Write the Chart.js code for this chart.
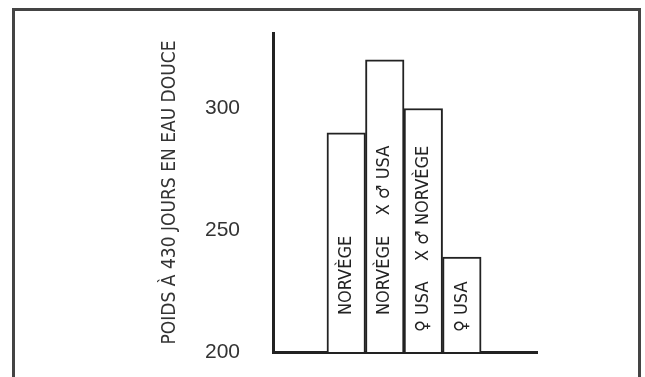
<!DOCTYPE html>
<html>
<head>
<meta charset="utf-8">
<script src="https://cdn.jsdelivr.net/npm/chart.js@4.4.0/dist/chart.umd.min.js"></script>
<style>
  html, body { margin: 0; padding: 0; background: #fff; }
  #wrap { position: relative; width: 645px; height: 377px; overflow: hidden; }
  #frame { position: absolute; left: 12px; top: 8px; width: 623px; height: 400px; border: 3px solid #444; border-bottom: none; pointer-events: none; }
  canvas { position: absolute; left: 0; top: 0; }
</style>
</head>
<body>
<div id="wrap">
  <canvas id="chart" width="645" height="377"></canvas>
  <div id="frame"></div>
</div>
<script>
// Crosses (female x male) and the mean weight after 430 days in fresh water
var categories = ['NORVÈGE', 'NORVÈGE    X ♂ USA', '♀ USA    X ♂ NORVÈGE', '♀ USA'];
var weights = [290, 320, 300, 239];
var yTicks = [200, 250, 300];
var yTitle = 'POIDS À 430 JOURS EN EAU DOUCE';

var narrow = "'Liberation Sans Narrow', 'DejaVu Sans Condensed', sans-serif";
var ink = '#222';

// write the group names up the inside of each bar
var barLabels = {
  id: 'barLabels',
  afterDatasetsDraw: function (chart) {
    var ctx = chart.ctx;
    var bottom = chart.chartArea.bottom;
    chart.getDatasetMeta(0).data.forEach(function (bar, i) {
      var text = categories[i];
      ctx.save();
      ctx.font = '18px ' + narrow;
      ctx.fillStyle = ink;
      ctx.textAlign = 'left';
      ctx.textBaseline = 'middle';
      var start = bottom - 37;
      // the female sign hangs below the other names
      if (text.charAt(0) === '♀') start += ctx.measureText('♀ ').width;
      ctx.translate(bar.x, start);
      ctx.rotate(-Math.PI / 2);
      ctx.fillText(text, 0, 0);
      ctx.restore();
    });
  }
};

var ctx = document.getElementById('chart').getContext('2d');

new Chart(ctx, {
  type: 'bar',
  data: {
    datasets: [{
      data: weights.map(function (w, i) { return { x: i, y: w }; }),
      backgroundColor: '#fff',
      borderColor: ink,
      borderWidth: 2,
      barPercentage: 1,
      categoryPercentage: 1
    }]
  },
  options: {
    responsive: false,
    animation: false,
    layout: { padding: { left: 155, right: 108, top: 33, bottom: 25 } },
    plugins: {
      legend: { display: false },
      tooltip: { enabled: false }
    },
    scales: {
      x: {
        type: 'linear',
        min: -1.9,
        max: 4.95,
        offset: false,
        bounds: 'data',
        afterBuildTicks: function (s) {
          s.ticks = categories.map(function (c, i) { return { value: i }; });
        },
        afterFit: function (s) { s.height = 0; s.paddingLeft = 0; s.paddingRight = 0; },
        ticks: { display: false },
        grid: { display: false, drawTicks: false },
        border: { display: true, color: ink, width: 3 }
      },
      y: {
        min: 200,
        max: 331,
        afterBuildTicks: function (s) {
          s.ticks = yTicks.map(function (v) { return { value: v }; });
        },
        afterFit: function (s) { s.width = 118; s.paddingTop = 0; s.paddingBottom = 0; },
        ticks: {
          color: '#333',
          padding: 33,
          font: { family: "'Liberation Sans', Arial, sans-serif", size: 21 }
        },
        grid: { display: false, drawTicks: false },
        border: { display: true, color: ink, width: 3 },
        title: {
          display: true,
          text: yTitle,
          color: '#333',
          padding: { top: 4, bottom: 0 },
          font: { family: narrow, size: 19 }
        }
      }
    }
  },
  plugins: [barLabels]
});
</script>
</body>
</html>
